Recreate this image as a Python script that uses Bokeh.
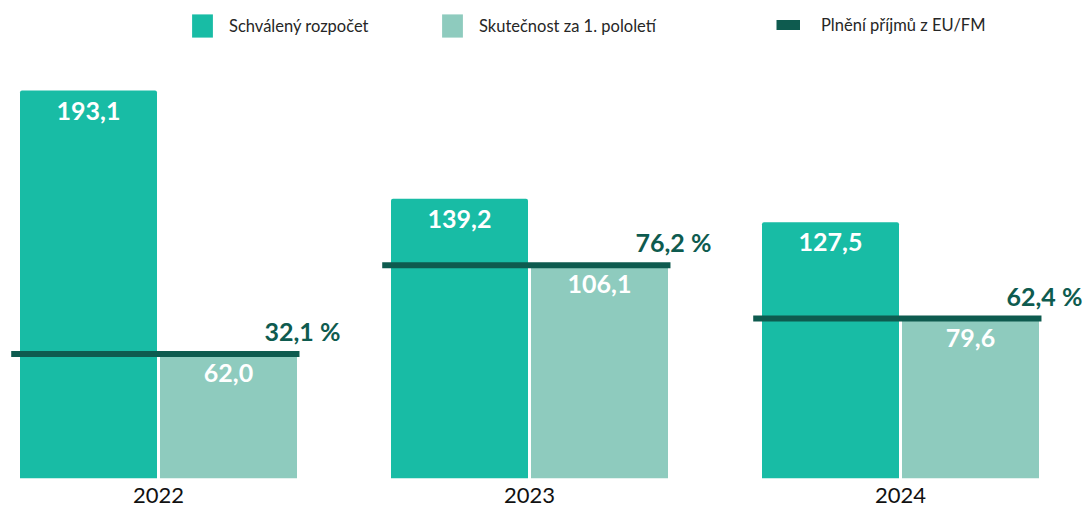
from bokeh.plotting import figure
from bokeh.models import ColumnDataSource, Legend, LegendItem, Range1d
from bokeh.transform import dodge
from bokeh.core.properties import value
from bokeh.embed import file_html
from bokeh.resources import INLINE

years = ["2022", "2023", "2024"]
schvaleny = [193.1, 139.2, 127.5]
skutecnost = [62.0, 106.1, 79.6]
plneni = [32.1, 76.2, 62.4]

C1 = "#18BCA5"
C2 = "#8ECBBE"
DARK = "#0E5B4F"
FONT = "Lato"

xs = list(range(len(years)))
src = ColumnDataSource(dict(
    x=xs,
    schv=schvaleny,
    skut=skutecnost,
    schv_lbl=[f"{v:.1f}".replace(".", ",") for v in schvaleny],
    skut_lbl=[f"{v:.1f}".replace(".", ",") for v in skutecnost],
    pct_lbl=[f"{v:.1f} %".replace(".", ",") for v in plneni],
))

W, H = 1085, 506
frame_h = 478
SX = 371.0
SY = 388 / 193.1
x0 = -158 / SX
p = figure(width=W, height=H, output_backend="svg", toolbar_location=None,
           x_range=Range1d(x0, x0 + W / SX),
           y_range=Range1d(0, frame_h / SY),
           min_border_left=0, min_border_right=0, min_border_top=0,
           min_border_bottom=H - frame_h)
p.outline_line_color = None
p.background_fill_color = "white"
p.border_fill_color = "white"
p.grid.visible = False
p.yaxis.visible = False

bw = 137 / SX
off = 140 / 2 / SX
r1 = p.vbar(x=dodge("x", -off), top="schv", width=bw, source=src,
            fill_color=C1, line_color=None, border_radius=(2, 2, 0, 0))
r2 = p.vbar(x=dodge("x", off), top="skut", width=bw, source=src,
            fill_color=C2, line_color=None, border_radius=(2, 2, 0, 0))
p.segment(x0=dodge("x", -0.397), x1=dodge("x", 0.38), y0="skut", y1="skut",
          line_width=6, line_color=DARK, source=src)
# renderer used only for the legend swatch (thicker bar like the original)
r3 = p.segment(x0=dodge("x", -0.397), x1=dodge("x", 0.38), y0="skut", y1="skut",
               line_width=10, line_color=DARK, source=src, visible=False)

lbl_kw = dict(text_font=value(FONT), text_font_style="bold", text_font_size="25px",
              text_align="center", text_baseline="middle", source=src)
p.text(x=dodge("x", -off), y="schv", text="schv_lbl", y_offset=20,
       text_color="white", **lbl_kw)
p.text(x=dodge("x", off), y="skut", text="skut_lbl", y_offset=19,
       text_color="white", **lbl_kw)
p.text(x=dodge("x", 0.38), y="skut", text="pct_lbl", y_offset=-23, x_offset=3,
       text_color=DARK, **lbl_kw)

ax = p.xaxis[0]
ax.ticker = xs
ax.major_label_overrides = {i: y for i, y in enumerate(years)}
ax.axis_line_color = None
ax.major_tick_line_color = None
ax.minor_tick_line_color = None
ax.major_tick_out = 0
ax.major_tick_in = 0
ax.minor_tick_out = 0
ax.minor_tick_in = 0
ax.major_label_standoff = 9
ax.major_label_text_font = FONT
ax.major_label_text_font_size = "22px"
ax.major_label_text_color = "#111111"

def add_legend(label, rend, x, y, gw, standoff):
    lg = Legend(items=[LegendItem(label=label, renderers=[rend])],
                location=(x, y), padding=0, margin=0, spacing=0,
                glyph_width=gw, glyph_height=29, label_height=23,
                label_standoff=standoff,
                border_line_color=None, background_fill_alpha=0,
                label_text_font=FONT, label_text_font_size="16.5px",
                label_text_color="#262626")
    p.add_layout(lg)

add_legend("Schválený rozpočet", r1, 189, 438, 26, 14)
add_legend("Skutečnost za 1. pololetí", r2, 439, 438, 26, 14)
add_legend("Plnění příjmů z EU/FM", r3, 776, 439, 24, 21)

open("out.html", "w").write(file_html(p, INLINE))
